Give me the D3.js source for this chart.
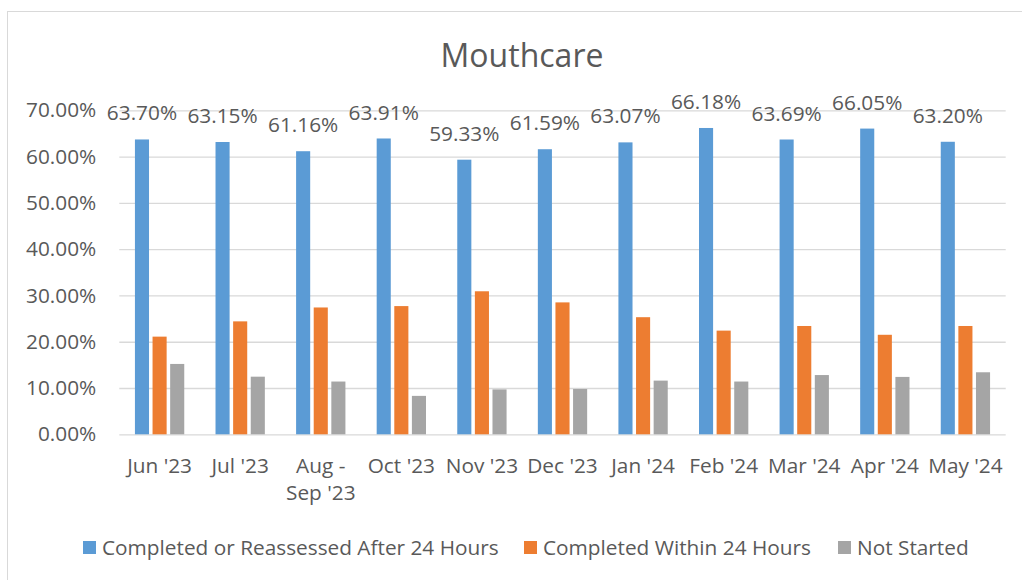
<!DOCTYPE html>
<html lang="en">
<head>
<meta charset="UTF-8">
<title>Mouthcare</title>
<script src="https://d3js.org/d3.v7.min.js"></script>
<style>
body {
  margin: 0px;
  overflow: hidden;
  background: #fff;
}
text {
  font-family: "Open Sans", sans-serif;
  fill: #595959;
}
.tick line {
  stroke: #d9d9d9;
}
</style>
</head>
<body>
<svg width="1022" height="580"></svg>
<script>
// values
const months = ["Jun '23", "Jul '23", "Aug - Sep '23", "Oct '23", "Nov '23", "Dec '23",
  "Jan '24", "Feb '24", "Mar '24", "Apr '24", "May '24"];
const seriesNames = ["Completed or Reassessed After 24 Hours", "Completed Within 24 Hours", "Not Started"];
const afterHours = [63.70, 63.15, 61.16, 63.91, 59.33, 61.59, 63.07, 66.18, 63.69, 66.05, 63.20];
const withinHours = [21.1, 24.4, 27.4, 27.7, 30.9, 28.5, 25.3, 22.4, 23.4, 21.5, 23.4];
const notStarted = [15.2, 12.45, 11.4, 8.3, 9.7, 9.8, 11.6, 11.4, 12.8, 12.4, 13.4];
const yTicks = [0, 10, 20, 30, 40, 50, 60, 70];
const colors = ["#5b9bd5", "#ed7d31", "#a5a5a5"];

const svg = d3.select('svg');
const margin = { top: 110.3, left: 119.3, right: 16.3, bottom: 145.7 };
const width = 1022 - margin.left - margin.right;
const height = 580 - margin.top - margin.bottom;
const fs = '20.8px';

// outer chart frame (runs off the right and bottom of the picture)
svg.append('rect')
  .attr('x', 7.5).attr('y', 11.5)
  .attr('width', 1100).attr('height', 700)
  .attr('fill', 'none')
  .attr('stroke', '#d9d9d9');

svg.append('text')
  .attr('x', 522).attr('y', 67)
  .attr('text-anchor', 'middle')
  .style('font-size', '32px')
  .text('Mouthcare');

const g = svg.append('g')
  .attr('transform', `translate(${margin.left},${margin.top})`);

const yScale = d3.scaleLinear().domain([0, 70]).range([height, 0]);
const x0 = d3.scaleBand().domain(months).range([0, width]);
const groupW = x0.step() * 0.612;
const x1 = d3.scaleBand().domain(seriesNames)
  .range([(x0.step() - groupW) / 2, (x0.step() + groupW) / 2])
  .paddingInner(0.2);

const yAxisG = g.append('g')
  .call(d3.axisLeft(yScale).tickValues(yTicks).tickSize(-width).tickPadding(23)
    .tickFormat(d => d.toFixed(2) + '%'));
yAxisG.select('.domain').remove();
yAxisG.selectAll('.tick line').attr('stroke', '#d9d9d9').attr('stroke-width', 1.3);
yAxisG.selectAll('.tick text')
  .style('font-size', fs)
  .attr('fill', '#595959');

const xAxisG = g.append('g')
  .attr('transform', `translate(0,${height})`)
  .call(d3.axisBottom(x0).tickSize(0).tickPadding(0));
xAxisG.select('.domain').remove();
xAxisG.selectAll('.tick text')
  .style('font-size', fs)
  .attr('fill', '#595959')
  .attr('dy', null)
  .attr('y', 39)
  .each(function (d) {
    const t = d3.select(this);
    if (d.indexOf(' - ') > 0) {
      const parts = d.split(' - ');
      t.text(null);
      t.append('tspan').attr('x', 0).attr('y', 39).text(parts[0] + ' -');
      t.append('tspan').attr('x', 0).attr('y', 66).text(parts[1]);
    }
  });

const rows = months.map((m, i) => ({
  month: m,
  values: [afterHours[i], withinHours[i], notStarted[i]]
}));

const groups = g.selectAll('.group').data(rows).enter().append('g')
  .attr('class', 'group')
  .attr('transform', d => `translate(${x0(d.month)},0)`);

groups.selectAll('rect')
  .data(d => d.values.map((v, k) => ({ v, k })))
  .enter().append('rect')
    .attr('x', d => x1(seriesNames[d.k]))
    .attr('width', x1.bandwidth())
    .attr('y', d => yScale(d.v))
    .attr('height', d => height - yScale(d.v))
    .attr('fill', d => colors[d.k]);

// data labels on the first series only
groups.append('text')
  .attr('x', x1(seriesNames[0]) + x1.bandwidth() / 2)
  .attr('y', d => yScale(d.values[0]) - 19)
  .attr('text-anchor', 'middle')
  .style('font-size', fs)
  .text(d => d.values[0].toFixed(2) + '%');

// legend
const legendX = [83, 524, 838];
const legend = svg.selectAll('.legend').data(seriesNames).enter().append('g')
  .attr('class', 'legend')
  .attr('transform', (d, i) => `translate(${legendX[i]},548)`);
legend.append('rect')
  .attr('x', 0).attr('y', -7)
  .attr('width', 13).attr('height', 13)
  .attr('fill', (d, i) => colors[i]);
legend.append('text')
  .attr('x', 19).attr('y', 7)
  .style('font-size', fs)
  .text(d => d);
</script>
</body>
</html>
